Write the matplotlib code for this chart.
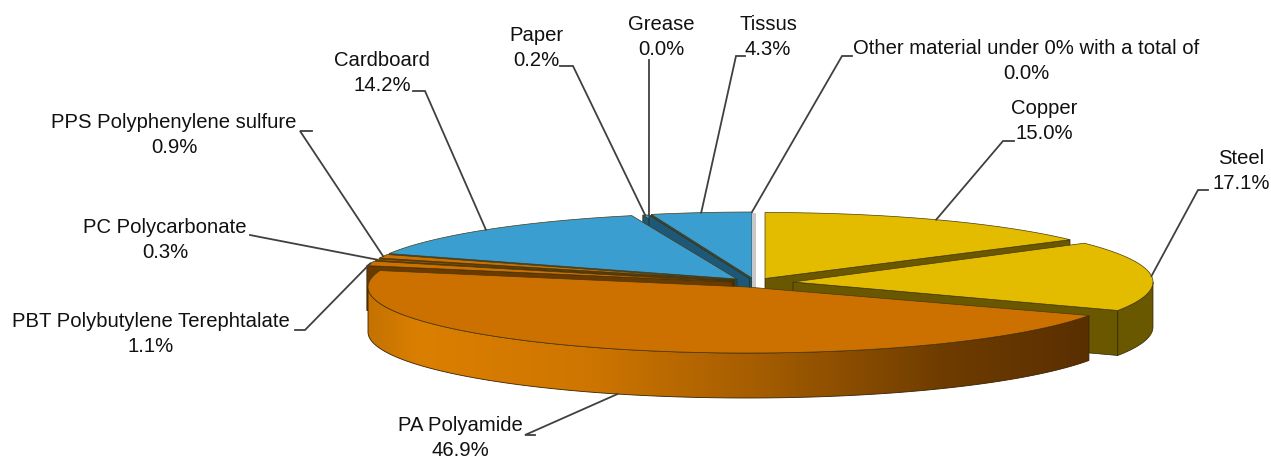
import matplotlib
matplotlib.use("Agg")
import matplotlib.pyplot as plt
import numpy as np
from matplotlib.colors import LinearSegmentedColormap
from matplotlib.patches import Polygon

plt.rcParams['font.family'] = ['Liberation Sans', 'DejaVu Sans']

# values, clockwise from 12 o'clock
materials = ['Copper', 'Steel', 'PA Polyamide', 'PBT Polybutylene Terephtalate',
             'PC Polycarbonate', 'PPS Polyphenylene sulfure', 'Cardboard', 'Paper',
             'Grease', 'Tissus', 'Other material under 0% with a total of']
percents = [15.0, 17.1, 46.9, 1.1, 0.3, 0.9, 14.2, 0.2, 0.0, 4.3, 0.0]

YELLOW = ('#E3BC00', '#6A5800')
ORANGE = ('#CC7000', '#6B3A00')
BLUE = ('#3A9FD0', '#1E5878')
GREY = ('#C8C8C8', '#C8C8C8')

# layout of each slice (exploded apex in pixels, x radius, colours)
apex_x = [765, 793, 747, 732, 733.5, 735, 737, 748, 749.6, 752, 752]
apex_y = [278.5, 282, 287, 282, 281, 280, 279, 278.5, 278.5, 278, 278]
radius_x = [377, 360, 379, 377, 377, 377, 377, 377, 377, 377, 377]
colors = [YELLOW, YELLOW, ORANGE, ORANGE, ORANGE, ORANGE, BLUE, BLUE, BLUE, BLUE, GREY]
RY = 66
DEPTH = 45

# painter's order, back to front
draw_order = [9, 7, 8, 6, 10, 0, 1, 5, 4, 3, 2]

# label centre, knee start, knee end of the leader
label_pos = [(1044, 121), (1241, 171), (460, 438), (151, 334), (165, 240), (174, 135),
             (382, 73), (536, 48), (661, 37), (768, 37), (1026, 61)]
knee_a = [(1014, 141), (1208, 190), (535, 435), (295, 330), (250, 235), (312, 131),
          (413, 91), (560, 66), (649, 60), (745, 56), (852, 56)]
knee_b = [(1003, 141), (1198, 190), (525, 435), (305, 330), (260, 237), (300, 131),
          (425, 91), (573, 66), (649, 60), (736, 56), (842, 56)]

edges = np.concatenate([[0], np.cumsum(percents)]) * 3.6
start_deg = edges[:-1]
end_deg = edges[1:]


def rim(i, deg):
    t = np.radians(deg)
    return apex_x[i] + radius_x[i] * np.sin(t), apex_y[i] - RY * np.cos(t)


def arc(i, a0, a1):
    deg = np.linspace(a0, a1, max(int(abs(a1 - a0)) * 2, 2))
    x, y = rim(i, deg)
    return np.column_stack([x, y])


def cut_face(ax, i, deg, color):
    x, y = rim(i, deg)
    pts = [(apex_x[i], apex_y[i]), (x, y), (x, y + DEPTH), (apex_x[i], apex_y[i] + DEPTH)]
    ax.add_patch(Polygon(pts, closed=True, fc=color, ec='#2b2200', lw=0.5))


side_cmap = LinearSegmentedColormap.from_list(
    'pa_side', [(0.0, '#C47200'), (0.07, '#DB7F00'), (0.3, '#CF7600'),
                (0.55, '#A35C00'), (0.8, '#6E3C00'), (1.0, '#5A2F00')])

fig = plt.figure(figsize=(12.71, 4.59), dpi=100)
ax = fig.add_axes([0, 0, 1, 1])
ax.set_xlim(0, 1271)
ax.set_ylim(459, 0)
ax.axis('off')

for i in draw_order:
    top_c, side_c = colors[i]
    a0, a1 = start_deg[i], end_deg[i]

    if percents[i] == 0 and materials[i] != 'Grease':
        # zero slice only shows as a thin wall
        x0 = apex_x[i]
        ax.add_patch(Polygon([(x0, apex_y[i] - RY + 1), (x0 + 4, apex_y[i] - RY + 1),
                              (x0 + 4, apex_y[i] + 10), (x0, apex_y[i] + 10)],
                             closed=True, fc=top_c, ec='none'))
        continue

    if np.sin(np.radians(a0)) < 0:
        cut_face(ax, i, a0, side_c)
    if np.sin(np.radians(a1)) > 0:
        cut_face(ax, i, a1, side_c)

    f0, f1 = max(a0, 90), min(a1, 270)
    if f1 > f0:
        front = arc(i, f0, f1)
        shell = np.vstack([front, (front + [0, DEPTH])[::-1]])
        if materials[i] == 'PA Polyamide':
            patch = Polygon(shell, closed=True, fc='none', ec='#3a2000', lw=0.6, zorder=3)
            ax.add_patch(patch)
            im = ax.imshow(np.linspace(0, 1, 256)[None, :], cmap=side_cmap, aspect='auto',
                           extent=[shell[:, 0].min(), shell[:, 0].max(), 459, 0], zorder=2)
            body = Polygon(shell, closed=True, transform=ax.transData)
            im.set_clip_path(body)
            ax.set_xlim(0, 1271)
            ax.set_ylim(459, 0)
        else:
            ax.add_patch(Polygon(shell, closed=True, fc=side_c, ec='#2b2200', lw=0.5))

    top = np.vstack([[apex_x[i], apex_y[i]], arc(i, a0, a1)])
    ax.add_patch(Polygon(top, closed=True, fc=top_c, ec='#4a3a10', lw=0.5,
                         zorder=4 if materials[i] == 'PA Polyamide' else 1))

# leaders and labels
for i, name in enumerate(materials):
    mid = (start_deg[i] + end_deg[i]) / 2
    x, y = rim(i, mid)
    if np.cos(np.radians(mid)) < 0:
        y += DEPTH
    ax.plot([knee_a[i][0], knee_b[i][0], x], [knee_a[i][1], knee_b[i][1], y],
            color='#404040', lw=1.3, solid_joinstyle='miter', zorder=5)
    ax.text(label_pos[i][0], label_pos[i][1], f'{name}\n{percents[i]:.1f}%',
            ha='center', va='center', fontsize=14.6, color='#111111', linespacing=1.35, zorder=6)

fig.savefig('out.png', dpi=100)
